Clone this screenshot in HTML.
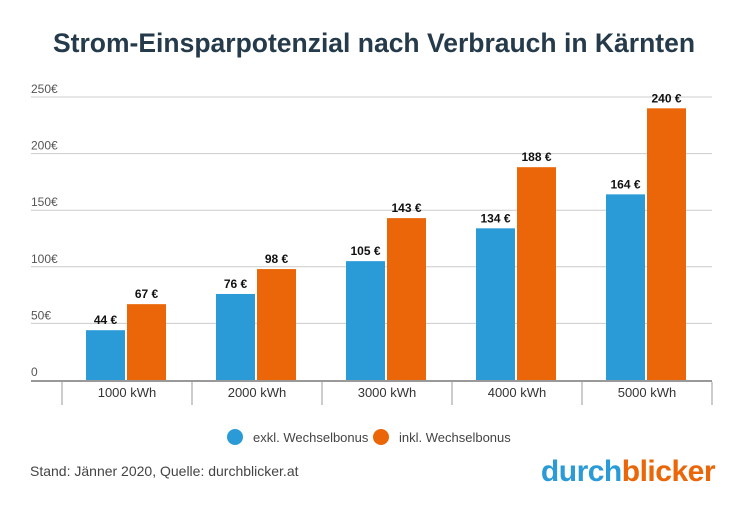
<!DOCTYPE html>
<html><head><meta charset="utf-8"><style>
body{margin:0;width:750px;height:500px;background:#fff;font-family:"Liberation Sans",sans-serif;overflow:hidden}
</style></head><body>
<svg width="750" height="500">
<text x="374" y="52" text-anchor="middle" font-size="26.5" font-weight="bold" fill="#253a4a">Strom-Einsparpotenzial nach Verbrauch in Kärnten</text>
<g id="grid"></g><g id="bars"></g>
<g>
<circle cx="235" cy="437" r="8" fill="#2b9bd8"/>
<text x="253" y="442" font-size="13" fill="#444">exkl. Wechselbonus</text>
<circle cx="381" cy="437" r="8" fill="#ea6608"/>
<text x="399" y="442" font-size="13" fill="#444">inkl. Wechselbonus</text>
</g>
<text x="30" y="476" font-size="14" fill="#444">Stand: Jänner 2020, Quelle: durchblicker.at</text>
<text x="715" y="481" text-anchor="end" font-size="30" font-weight="bold" letter-spacing="-0.5"><tspan fill="#2b9bd8">durch</tspan><tspan fill="#ea6608">blicker</tspan></text>
</svg>
<script>
const categories=["1000 kWh","2000 kWh","3000 kWh","4000 kWh","5000 kWh"];
const exkl=[44,76,105,134,164];
const inkl=[67,98,143,188,240];
const ticks=[0,50,100,150,200,250];
const tickLabels=["0","50€","100€","150€","200€","250€"];
const NS="http://www.w3.org/2000/svg";
const y0=380,yTop=97,vmax=250,x0=62,cw=130;
const y=v=>y0-(v/vmax)*(y0-yTop);
function mk(t,a,p){const e=document.createElementNS(NS,t);for(const k in a)e.setAttribute(k,a[k]);p.appendChild(e);return e;}
const g=document.getElementById('grid'),b=document.getElementById('bars');
ticks.forEach((t,i)=>{
 if(t>0){const l=mk('line',{x1:31,x2:712,y1:y(t),y2:y(t),stroke:'#ccc','stroke-width':1},g);
 
 }
 const tx=mk('text',{x:31,y:y(t)-4,'font-size':12,fill:'#555'},g);tx.textContent=tickLabels[i];
 
 
});
const ax=mk('line',{x1:31,x2:712,y1:y0+1,y2:y0+1,stroke:'#999','stroke-width':2},g);


for(let i=0;i<=categories.length;i++){const s=mk('line',{x1:x0+i*cw,x2:x0+i*cw,y1:y0+2,y2:405,stroke:'#999','stroke-width':1},g);
 
 }
categories.forEach((c,i)=>{
 const cx=x0+i*cw+cw/2;
 const lt=mk('text',{x:cx,y:397,'text-anchor':'middle','font-size':13,fill:'#333'},g);lt.textContent=c;
 
 
 [[exkl[i],cx-41,'#2b9bd8','bar-exkl'],[inkl[i],cx,'#ea6608','bar-inkl']].forEach(([v,bx,col,nm])=>{
  const r=mk('rect',{x:bx,y:y(v),width:39,height:y0-y(v),fill:col},b);
  
  
  const t=mk('text',{x:bx+19.5,y:y(v)-6,'text-anchor':'middle','font-size':12,'font-weight':'bold',fill:'#111'},b);t.textContent=v+' €';
  
  
 });
});
</script>
</body></html>
